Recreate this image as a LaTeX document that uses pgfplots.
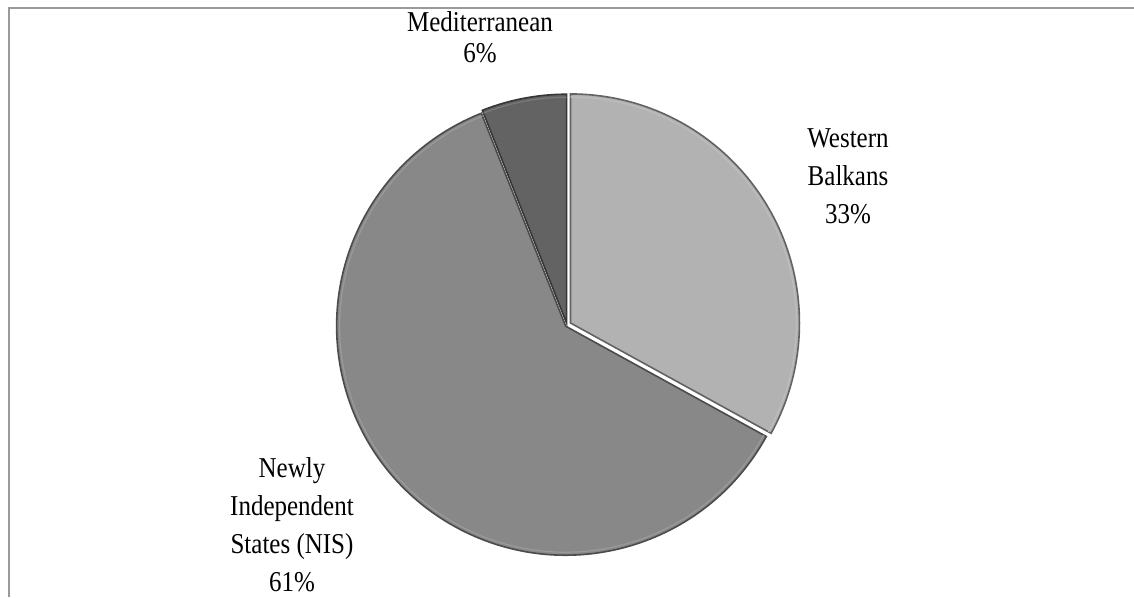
\documentclass[border=0pt]{standalone}
\usepackage{pgfplots}
\pgfplotsset{compat=1.18}
\usepackage{fontspec}
\setmainfont{Liberation Serif}

\definecolor{wbgray}{HTML}{B2B2B2}
\definecolor{nisgray}{HTML}{888888}
\definecolor{medgray}{HTML}{636363}
\definecolor{framegray}{HTML}{9A9A9A}

\begin{document}
\begin{tikzpicture}
\begin{axis}[
    width=1134pt, height=597pt,
    scale only axis,
    xmin=0, xmax=1134,
    ymin=0, ymax=597,
    hide axis,
    clip=false,
]
    % frame (left and top edges only, the rest is cropped)
    \draw[framegray, line width=1.6pt] (axis cs:9,0) -- (axis cs:9,589) -- (axis cs:1134,589);

    % slices: share (%), colour, explode offset (pt), clockwise from 12 o'clock
    \gdef\pieStart{90}
    \foreach \share/\col/\off in {33/wbgray/4, 61/nisgray/1.8, 6/medgray/1.8} {
        \pgfmathsetmacro\pieEnd{\pieStart-3.6*\share}
        \pgfmathsetmacro\pieMid{(\pieStart+\pieEnd)/2}
        \edef\temp{%
            \noexpand\filldraw[fill=\col, draw=\col!55!black, line width=1.6pt,
                shift={(\pieMid:\off pt)}]
                (axis cs:567,272) -- ++(\pieStart:229pt)
                arc[start angle=\pieStart, end angle=\pieEnd, radius=229pt] -- cycle;
            \noexpand\draw[\col!85!white, line width=1.2pt,
                shift={(\pieMid:\off pt)}]
                (axis cs:567,272) ++(\pieStart:226pt)
                arc[start angle=\pieStart, end angle=\pieEnd, radius=226pt];
        }\temp
        \xdef\pieStart{\pieEnd}
    }

    % data labels
    \begin{scope}[every node/.style={align=center, yscale=1.15,
            font=\fontsize{25}{33}\selectfont}]
        \node[font=\fontsize{25}{27}\selectfont] at (axis cs:480,560) {Mediterranean\\6\%};
        \node at (axis cs:848,421) {Western\\Balkans\\33\%};
        \node at (axis cs:292,72) {Newly\\Independent\\States (NIS)\\61\%};
    \end{scope}
\end{axis}
\pgfresetboundingbox
\useasboundingbox (current axis.south west) rectangle (current axis.north east);
\end{tikzpicture}
\end{document}
